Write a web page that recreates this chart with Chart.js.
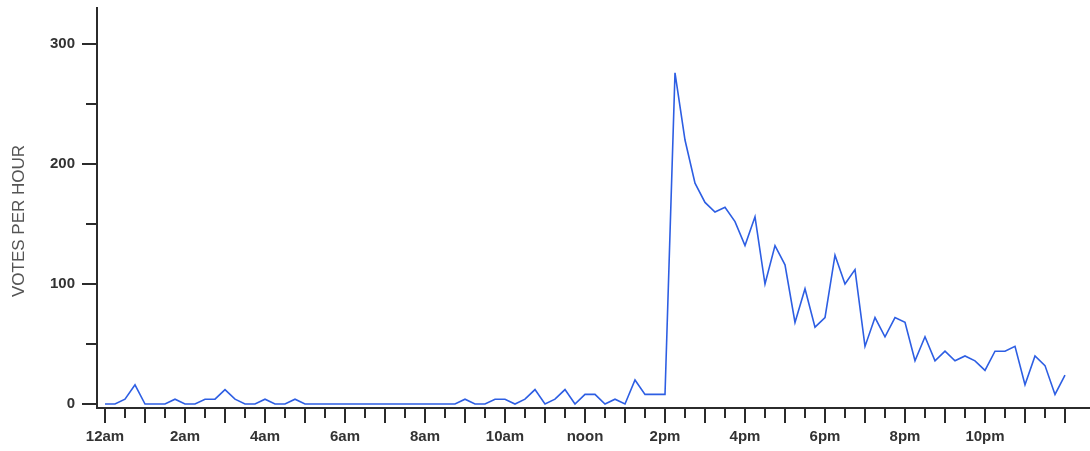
<!DOCTYPE html>
<html>
<head>
<meta charset="utf-8">
<title>Votes per hour</title>
<script src="https://cdn.jsdelivr.net/npm/chart.js@4.4.1/dist/chart.umd.min.js"></script>
<style>
  html, body { margin: 0; padding: 0; background: #fff; }
  #wrap { width: 1090px; height: 451px; }
</style>
</head>
<body>
<div id="wrap"><canvas id="votesChart" width="1090" height="451"></canvas></div>
<script>
/* ==========================================================================
   DATA
   ========================================================================== */
// one value per 15 minute bin, from 12am to the next 12am
const votesPerHour = [
    0, 0, 4, 16, 0, 0, 0, 4, 0, 0,
    4, 4, 12, 4, 0, 0, 4, 0, 0, 4,
    0, 0, 0, 0, 0, 0, 0, 0, 0, 0,
    0, 0, 0, 0, 0, 0, 4, 0, 0, 4,
    4, 0, 4, 12, 0, 4, 12, 0, 8, 8,
    0, 4, 0, 20, 8, 8, 8, 276, 220, 184,
    168, 160, 164, 152, 132, 156, 100, 132, 116, 68,
    96, 64, 72, 124, 100, 112, 48, 72, 56, 72,
    68, 36, 56, 36, 44, 36, 40, 36, 28, 44,
    44, 48, 16, 40, 32, 8, 24
];
const binHours = 0.25;

const hourLabels = ['12am', '2am', '4am', '6am', '8am', '10am', 'noon', '2pm', '4pm', '6pm', '8pm', '10pm'];
const xTickHours = [];           // a tick every half hour, 0 .. 24
for (let h = 0; h <= 48; h++) xTickHours.push(h / 2);
const yTickValues = [0, 50, 100, 150, 200, 250, 300];

const yTitle = 'VOTES PER HOUR';

/* ==========================================================================
   TICK MARKS + Y TITLE (long on whole hours / hundreds, short otherwise)
   ========================================================================== */
const axisColor = '#2b2b2b';

const tickMarks = {
    id: 'tickMarks',
    afterDraw(chart) {
        const { ctx, chartArea, scales: { x, y } } = chart;
        ctx.save();
        ctx.strokeStyle = axisColor;
        ctx.lineWidth = 2;
        ctx.beginPath();
        xTickHours.forEach(h => {
            const px = Math.round(x.getPixelForValue(h));
            const len = h % 1 === 0 ? 15 : 10;
            ctx.moveTo(px, chartArea.bottom);
            ctx.lineTo(px, chartArea.bottom + len);
        });
        yTickValues.forEach(v => {
            const py = Math.round(y.getPixelForValue(v));
            const len = v % 100 === 0 ? 15 : 11;
            ctx.moveTo(chartArea.left - len, py);
            ctx.lineTo(chartArea.left, py);
        });
        ctx.stroke();

        // rotated axis title
        ctx.translate(19, 221);
        ctx.rotate(-Math.PI / 2);
        ctx.fillStyle = '#555';
        ctx.font = '17px "Liberation Sans", Arial, sans-serif';
        ctx.textAlign = 'center';
        ctx.textBaseline = 'middle';
        ctx.fillText(yTitle, 0, 0);
        ctx.restore();
    }
};

/* ==========================================================================
   CHART
   ========================================================================== */
const tickFont = { family: '"Liberation Sans", Arial, sans-serif', size: 15, weight: 'bold' };

new Chart(document.getElementById('votesChart'), {
    type: 'line',
    data: {
        datasets: [{
            data: votesPerHour.map((v, i) => ({ x: i * binHours, y: v })),
            borderColor: '#2d5ee3',
            borderWidth: 1.6,
            pointRadius: 0,
            tension: 0,
            fill: false
        }]
    },
    options: {
        responsive: false,
        animation: false,
        devicePixelRatio: 1,
        layout: { padding: { top: 8, right: 0, bottom: 0, left: 0 } },
        plugins: {
            legend: { display: false },
            tooltip: { enabled: false }
        },
        scales: {
            x: {
                type: 'linear',
                min: -0.2,
                max: 24.625,
                afterBuildTicks: scale => { scale.ticks = xTickHours.map(h => ({ value: h })); },
                afterFit: scale => {
                    scale.height = 43;
                    scale.paddingLeft = 0;
                    scale.paddingRight = 0;
                },
                grid: { display: false, drawTicks: true, tickLength: 15 },
                border: { display: true, color: axisColor, width: 2 },
                ticks: {
                    autoSkip: false,
                    maxRotation: 0,
                    padding: 5,
                    color: '#333',
                    font: tickFont,
                    callback: value => (value % 2 === 0 && value < 24) ? hourLabels[value / 2] : ''
                }
            },
            y: {
                min: -10 / 3,
                max: 330,
                afterBuildTicks: scale => { scale.ticks = yTickValues.map(v => ({ value: v })); },
                afterFit: scale => {
                    scale.width = 97;
                    scale.paddingTop = 0;
                    scale.paddingBottom = 0;
                },
                grid: { display: false, drawTicks: true, tickLength: 15 },
                border: { display: true, color: axisColor, width: 2 },
                ticks: {
                    padding: 7,
                    color: '#333',
                    font: tickFont,
                    callback: value => value % 100 === 0 ? String(value) : ''
                }
            }
        }
    },
    plugins: [tickMarks]
});
</script>
</body>
</html>
